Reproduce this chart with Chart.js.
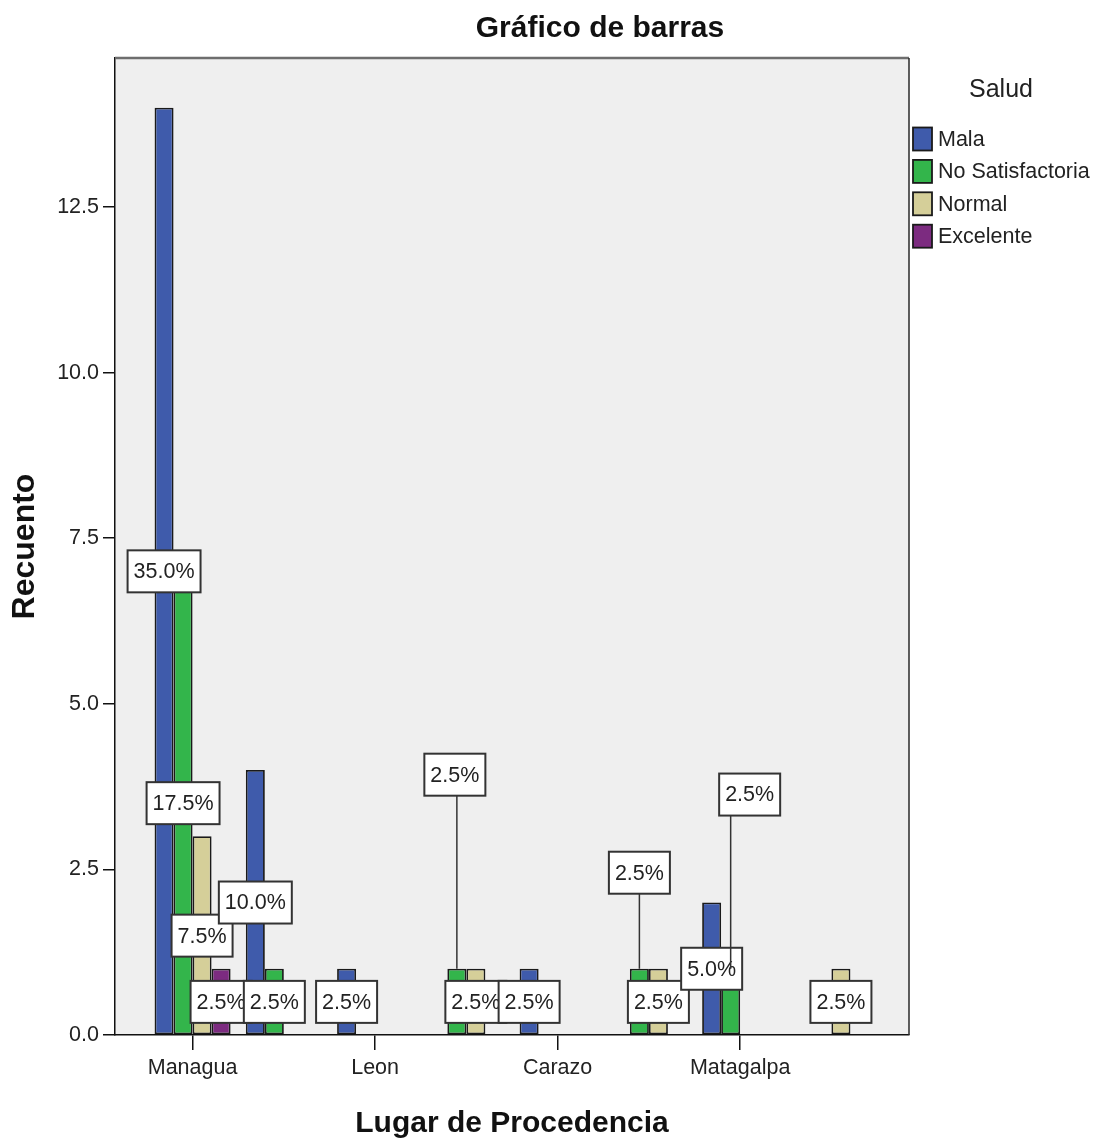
<!DOCTYPE html>
<html>
<head>
<meta charset="utf-8">
<script src="https://cdn.jsdelivr.net/npm/chart.js@4.4.1/dist/chart.umd.min.js"></script>
<style>
  html, body { margin: 0; padding: 0; background: #ffffff; }
  #wrap { width: 1094px; height: 1145px; }
</style>
</head>
<body>
<div id="wrap"><canvas id="c" width="1094" height="1145"></canvas></div>
<script>
// ---------------- data ----------------
// SPSS shows only every other category label (the others are hidden for lack of room)
const categories = ['Managua', '', 'Leon', '', 'Carazo', '', 'Matagalpa', ''];
const seriesNames = ['Mala', 'No Satisfactoria', 'Normal', 'Excelente'];
const mala            = [14, 4, 1, null, 1, null, 2, null];
const noSatisfactoria = [7, 1, null, 1, null, 1, 1, null];
const normal          = [3, null, null, 1, null, 1, null, 1];
const excelente       = [1, null, null, null, null, null, null, null];
const totalCount = 40;
const yTicks = [0, 2.5, 5, 7.5, 10, 12.5];
const legendTitle = 'Salud';
const chartTitle = 'Gráfico de barras';
const xTitle = 'Lugar de Procedencia';
const yTitle = 'Recuento';

// ---------------- styles ----------------
const seriesValues = [mala, noSatisfactoria, normal, excelente];
const colors = ['#3f5bab', '#33b54b', '#d5cf99', '#7c2b80'];
const FONT = "'Liberation Sans', Arial, sans-serif";
const TXT = '#222222';

const positions = categories.map((_, i) => i + 1);
const tickPositions = positions.filter((p, i) => categories[i] !== '');

const datasets = seriesNames.map((name, d) => ({
  label: name,
  data: seriesValues[d].map((v, i) => ({ x: positions[i], y: v })),
  backgroundColor: colors[d],
  borderColor: '#1a1a1a',
  borderWidth: 1.8,
  borderSkipped: false,
  categoryPercentage: 0.833,
  barPercentage: 1.0
}));

// plot area background + frame
const framePlugin = {
  id: 'frame',
  beforeDraw(chart) {
    const { ctx, chartArea: a } = chart;
    ctx.save();
    ctx.fillStyle = '#efefef';
    ctx.fillRect(a.left, a.top, a.right - a.left, a.bottom - a.top);
    ctx.restore();
  },
  beforeDatasetsDraw(chart) {
    const { ctx, chartArea: a } = chart;
    ctx.save();
    ctx.strokeStyle = '#6e6e6e';
    ctx.lineWidth = 2.5;
    ctx.beginPath();
    ctx.moveTo(a.left, a.top);
    ctx.lineTo(a.right, a.top);
    ctx.stroke();
    ctx.strokeStyle = '#2a2a2a';
    ctx.lineWidth = 1.5;
    ctx.beginPath();
    ctx.moveTo(a.right, a.top);
    ctx.lineTo(a.right, a.bottom);
    ctx.stroke();
    ctx.restore();
  }
};

// percentage labels in boxes (SPSS style)
const labelPlugin = {
  id: 'pctLabels',
  afterDatasetsDraw(chart, args, o) {
    const { ctx } = chart;
    const yScale = chart.scales.y;
    ctx.save();
    ctx.font = o.size + 'px ' + FONT;
    ctx.textAlign = 'center';
    ctx.textBaseline = 'middle';
    for (let i = 0; i < categories.length; i++) {
      for (let d = 0; d < seriesValues.length; d++) {
        const v = seriesValues[d][i];
        if (v === null || v === undefined) continue;
        const bar = chart.getDatasetMeta(d).data[i];
        const text = (v / totalCount * 100).toFixed(1) + '%';
        const w = ctx.measureText(text).width + 2 * o.padX;
        const h = o.height;
        let cx = bar.x;
        let cy = yScale.getPixelForValue(v / 2);
        const off = o.offsets[d + ':' + i];
        if (off) {
          cx = bar.x + off.dx;
          cy = yScale.getPixelForValue(off.y);
          ctx.strokeStyle = '#333';
          ctx.lineWidth = 1.5;
          ctx.beginPath();
          ctx.moveTo(bar.x, bar.y);
          ctx.lineTo(bar.x, cy + h / 2);
          ctx.stroke();
        }
        ctx.fillStyle = '#ffffff';
        ctx.fillRect(cx - w / 2, cy - h / 2, w, h);
        ctx.strokeStyle = '#333333';
        ctx.lineWidth = 2;
        ctx.strokeRect(cx - w / 2, cy - h / 2, w, h);
        ctx.fillStyle = TXT;
        ctx.fillText(text, cx, cy + 1);
      }
    }
    ctx.restore();
  }
};

// title + side legend
const textPlugin = {
  id: 'texts',
  afterDraw(chart, args, o) {
    const { ctx, chartArea: a } = chart;
    ctx.save();
    ctx.fillStyle = '#111';
    ctx.textAlign = 'center';
    ctx.textBaseline = 'alphabetic';
    ctx.font = 'bold 30px ' + FONT;
    ctx.fillText(chartTitle, o.titleX, o.titleY);

    const x0 = a.right + o.legendDX;
    ctx.fillStyle = TXT;
    ctx.textBaseline = 'middle';
    ctx.font = o.legendTitleSize + 'px ' + FONT;
    ctx.fillText(legendTitle, x0 + o.legendTitleDX, a.top + o.legendTitleDY);
    ctx.font = o.size + 'px ' + FONT;
    ctx.textAlign = 'left';
    chart.data.datasets.forEach((ds, i) => {
      const cy = a.top + o.firstRowDY + i * o.rowGap;
      ctx.fillStyle = ds.backgroundColor;
      ctx.fillRect(x0, cy - o.boxH / 2, o.boxW, o.boxH);
      ctx.strokeStyle = '#1a1a1a';
      ctx.lineWidth = 1.8;
      ctx.strokeRect(x0, cy - o.boxH / 2, o.boxW, o.boxH);
      ctx.fillStyle = TXT;
      ctx.fillText(ds.label, x0 + o.boxW + o.gap, cy + 1);
    });
    ctx.restore();
  }
};

new Chart(document.getElementById('c'), {
  type: 'bar',
  data: { datasets },
  plugins: [framePlugin, labelPlugin, textPlugin],
  options: {
    responsive: false,
    devicePixelRatio: 1,
    animation: false,
    layout: { padding: { top: 58, right: 185, bottom: 0, left: 0 } },
    plugins: {
      legend: { display: false },
      tooltip: { enabled: false },
      title: { display: false },
      pctLabels: {
        size: 21.5, padX: 6, height: 42,
        offsets: {
          '1:3': { dx: -2, y: 3.93 },
          '1:5': { dx: 0, y: 2.45 },
          '1:6': { dx: 19, y: 3.63 }
        }
      },
      texts: {
        titleX: 600, titleY: 37,
        size: 21.5, legendTitleSize: 25,
        legendDX: 4, legendTitleDX: 88, legendTitleDY: 32,
        firstRowDY: 81, rowGap: 32.4, boxW: 19, boxH: 23, gap: 6
      }
    },
    scales: {
      x: {
        type: 'linear',
        min: 0.15, max: 8.85,
        offset: false,
        afterBuildTicks: s => { s.ticks = tickPositions.map(v => ({ value: v })); },
        afterFit: s => { s.height = 110; },
        ticks: {
          autoSkip: false, maxRotation: 0, minRotation: 0,
          callback: v => categories[Math.round(v) - 1],
          font: { family: FONT, size: 21.5 }, color: TXT, padding: 5
        },
        grid: { offset: false, drawOnChartArea: false, drawTicks: true, tickLength: 15, color: '#111', lineWidth: 1.5 },
        border: { display: true, color: '#111', width: 1.5 },
        title: {
          display: true, text: xTitle, color: '#111',
          font: { family: FONT, size: 30, weight: 'bold' },
          padding: { top: 0, bottom: 3 }
        }
      },
      y: {
        min: 0, max: 14.75,
        afterBuildTicks: s => { s.ticks = yTicks.map(v => ({ value: v })); },
        afterFit: s => { s.width = 115; },
        ticks: {
          callback: v => Number(v).toFixed(1),
          font: { family: FONT, size: 21.5 }, color: TXT, padding: 4
        },
        grid: { drawOnChartArea: false, drawTicks: true, tickLength: 12, color: '#111', lineWidth: 1.5 },
        border: { display: true, color: '#111', width: 1.5 },
        title: {
          display: true, text: yTitle, color: '#111',
          font: { family: FONT, size: 32, weight: 'bold' },
          padding: { top: 6, bottom: 0 }
        }
      }
    }
  }
});
</script>
</body>
</html>
